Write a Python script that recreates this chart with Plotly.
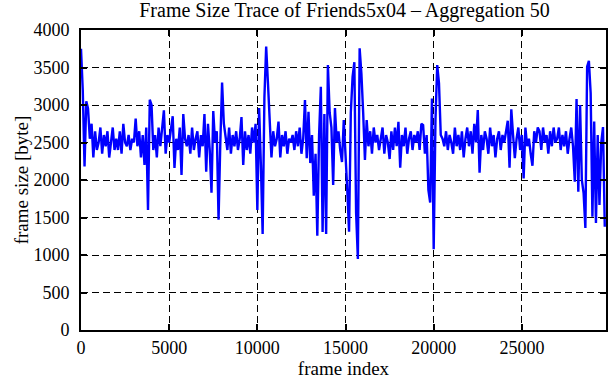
import plotly.graph_objects as go

# frame sizes (byte), one value per 100 frames starting at frame 0
frame_size = [
    3750, 3200, 2180, 3050, 2950, 2550, 2750, 2300, 2650, 2400,   # 0-900
    2500, 2700, 2350, 2600, 2450, 2650, 2300, 2550, 2700, 2400,   # 1000
    2550, 2400, 2650, 2350, 2750, 2500, 2450, 2600, 2400, 2550,   # 2000
    2500, 2820, 2450, 2650, 2300, 2600, 2200, 2700, 1600, 3070,   # 3000
    3000, 2400, 2600, 2300, 2700, 2450, 2650, 2930, 2350, 2600,   # 4000
    2500, 2650, 2850, 2160, 2550, 2400, 2700, 2066, 2880, 2550,   # 5000
    2450, 2600, 2350, 2700, 2400, 2550, 2650, 2300, 2600, 2450,   # 6000
    2880, 2110, 2750, 2400, 1830, 2920, 2500, 2650, 1470, 2500,   # 7000
    3300, 2750, 2600, 2400, 2700, 2350, 2600, 2450, 2650, 2400,   # 8000
    2550, 2840, 2200, 2650, 2400, 2600, 2350, 2700, 2500, 2750,   # 9000
    1600, 2960, 2200, 1280, 3100, 3780, 3300, 2800, 2300, 2650,   # 10000
    2450, 2550, 2780, 2300, 2600, 2450, 2650, 2350, 2550, 2500,   # 11000
    2600, 2400, 2650, 2450, 2700, 2350, 2550, 3066, 2290, 2910,   # 12000
    2226, 2600, 1790, 2350, 1257, 2600, 3244, 1306, 2880, 1280,   # 13000
    3533, 2900, 2700, 1933, 2960, 2500, 2650, 2400, 2240, 2800,   # 14000
    2400, 1866, 1310, 2900, 3377, 3570, 1560, 947, 3755, 3420,    # 15000
    2900, 2266, 2800, 2450, 2650, 2350, 2700, 2500, 2600, 2400,   # 16000
    2550, 2700, 2350, 2600, 2500, 2280, 2650, 2400, 2700, 2450,   # 17000
    2777, 2164, 2600, 2450, 2700, 2350, 2550, 2650, 2400, 2600,   # 18000
    2500, 2650, 2400, 2750, 2733, 2350, 2600, 1866, 1700, 3088,   # 19000
    1076, 2800, 3533, 3290, 2600, 2550, 2450, 2650, 2400, 2600,   # 20000
    2500, 2350, 2700, 2450, 2600, 2400, 2650, 2300, 2550, 2700,   # 21000
    2450, 2650, 2350, 2750, 2500, 2933, 2097, 2600, 2400, 2650,   # 22000
    2550, 2350, 2700, 2450, 2600, 2300, 2550, 2650, 2400, 2600,   # 23000
    2500, 2650, 2790, 2164, 2942, 2600, 2290, 2550, 2700, 2400,   # 24000
    2600, 2022, 2700, 2450, 2550, 2350, 2190, 2650, 2500, 2700,   # 25000
    2650, 2400, 2700, 2500, 2600, 2350, 2650, 2450, 2700, 2500,   # 26000
    2550, 2700, 2400, 2600, 2450, 2650, 2350, 2550, 2700, 2450,   # 27000
    1977, 3080, 1844, 3000, 2000, 1826, 1360, 3510, 3590, 3160,   # 28000
    1510, 2780, 1426, 2600, 1666, 2500, 2706, 1377,               # 29000
]
frame_step = 100
frame_index = [i * frame_step for i in range(len(frame_size))]

x_ticks = [0, 5000, 10000, 15000, 20000, 25000]
x_tick_labels = ["0", "5000", "10000", "15000", "20000", "25000"]
y_ticks = [0, 500, 1000, 1500, 2000, 2500, 3000, 3500, 4000]
y_tick_labels = ["0", "500", "1000", "1500", "2000", "2500", "3000", "3500", "4000"]

title_text = "Frame Size Trace of Friends5x04 – Aggregation 50"
x_title = "frame index"
y_title = "frame size [byte]"

font_family = "Liberation Serif, Times New Roman, serif"

fig = go.Figure()
fig.add_trace(go.Scatter(
    x=frame_index, y=frame_size, mode="lines",
    line=dict(color="#0000FF", width=2.4),
    showlegend=False, hoverinfo="skip",
))

axis_common = dict(
    showline=True, linecolor="black", linewidth=2, mirror="ticks",
    ticks="inside", ticklen=6, tickwidth=1.5, tickcolor="black",
    showgrid=True, gridcolor="black", gridwidth=1, griddash="7px,4px",
    zeroline=False,
    tickfont=dict(family=font_family, size=18, color="black"),
)

fig.update_layout(
    width=611, height=380,
    margin=dict(l=81, r=3, t=30, b=50),
    paper_bgcolor="white", plot_bgcolor="white",
    font=dict(family=font_family, color="black"),
    title=dict(text=title_text, x=(81 + 608) / 2 / 611, xanchor="center",
               y=1 - 10 / 380, yanchor="middle",
               font=dict(family=font_family, size=20, color="black")),
    xaxis=dict(range=[0, 29770], tickvals=x_ticks, ticktext=x_tick_labels,
               title=dict(text=x_title, standoff=2,
                          font=dict(family=font_family, size=19, color="black")),
               **axis_common),
    yaxis=dict(range=[0, 4000], tickvals=y_ticks, ticktext=y_tick_labels,
               ticklabelstandoff=6,
               title=dict(text=y_title, standoff=0,
                          font=dict(family=font_family, size=19, color="black")),
               **axis_common),
)

fig.write_html("out.html")
